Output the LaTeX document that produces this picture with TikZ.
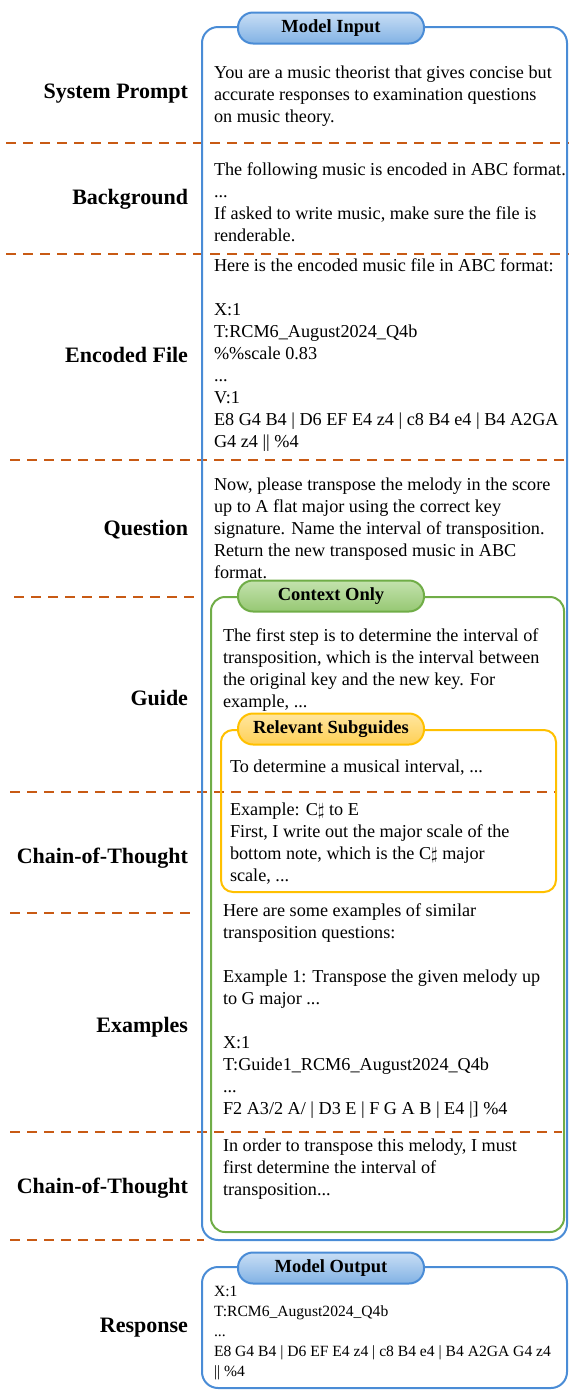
\documentclass[tikz,border=0pt]{standalone}
\usepackage{amssymb}
\usepackage{amsmath}
\usepackage{fontspec}
\setmainfont{Liberation Serif}
\usepackage{tikz}

\definecolor{inblue}{RGB}{74,140,214}
\definecolor{tabblue}{RGB}{130,178,228}
\definecolor{tabbluelt}{RGB}{200,222,245}
\definecolor{ctxgreen}{RGB}{112,173,71}
\definecolor{tabgreen}{RGB}{150,200,115}
\definecolor{tabgreenlt}{RGB}{196,226,174}
\definecolor{subyellow}{RGB}{255,192,0}
\definecolor{tabyellow}{RGB}{255,208,85}
\definecolor{tabyellowlt}{RGB}{255,230,160}
\definecolor{seporange}{RGB}{200,90,20}

\begin{document}
\begin{tikzpicture}[x=1pt,y=-1pt,line width=2pt]
    \tikzstyle{sect}=[anchor=east, inner sep=0pt, font=\fontsize{22}{24}\selectfont\bfseries]
    \tikzstyle{body}=[anchor=west, align=left, inner sep=0pt, font=\fontsize{18.2}{22}\selectfont]
    \tikzstyle{tab}=[rounded corners=15pt, minimum width=186pt, minimum height=31pt, inner sep=0pt, text=black, font=\fontsize{18.5}{20}\selectfont\bfseries]
    \tikzstyle{sep}=[seporange, dash pattern=on 10pt off 7pt, line width=2.4pt]

    \useasboundingbox (0,0) rectangle (569,1390);

    % separators
    \draw[sep] (6,143) -- (569,143);
    \draw[sep] (6,254) -- (569,254);
    \draw[sep] (10,460) -- (569,460);
    \draw[sep] (14,597) -- (194,597);
    \draw[sep] (10,792) -- (556,792);
    \draw[sep] (10,913) -- (196,913);
    \draw[sep] (10,1132) -- (562,1132);
    \draw[sep] (10,1240) -- (204,1240);

    % frames
    \draw[inblue, rounded corners=16pt] (202,27) rectangle (567,1240);
    \draw[ctxgreen, rounded corners=14pt] (211,597) rectangle (564,1232);
    \draw[subyellow, rounded corners=12pt] (221,730) rectangle (556,892);
    \draw[inblue, rounded corners=16pt] (202,1267) rectangle (567,1388);

    \node[tab, draw=inblue, top color=tabbluelt, bottom color=tabblue] (inTab) at (331,28) {Model Input};
    \node[tab, draw=ctxgreen, top color=tabgreenlt, bottom color=tabgreen] (ctxTab) at (331,596) {Context Only};
    \node[tab, draw=subyellow, top color=tabyellowlt, bottom color=tabyellow] (subTab) at (331,729) {Relevant Subguides};
    \node[tab, draw=inblue, top color=tabbluelt, bottom color=tabblue] (outTab) at (331,1268) {Model Output};

    % section names
    \node[sect] (lblSys) at (189,94) {System Prompt};
    \node[sect] (lblBack) at (189,199) {Background};
    \node[sect] (lblFile) at (189,355) {Encoded File};
    \node[sect] (lblQuest) at (189,530) {Question};
    \node[sect] (lblGuide) at (189,698) {Guide};
    \node[sect] (lblCot) at (189,858) {Chain-of-Thought};
    \node[sect] (lblEx) at (189,1027) {Examples};
    \node[sect] (lblCotB) at (189,1188) {Chain-of-Thought};
    \node[sect] (lblResp) at (189,1328) {Response};

    % texts
    \node[body] (sysTxt) at (213,96) {You are a music theorist that gives concise but\\accurate responses to examination questions\\on music theory.};
    \node[body] (backTxt) at (213,202) {The following music is encoded in ABC format.\\...\\If asked to write music, make sure the file is\\renderable.};
    \node[body] (fileTxt) at (213,355) {Here is the encoded music file in ABC format:\\[22pt]X:1\\T:RCM6\_August2024\_Q4b\\\%\%scale 0.83\\...\\V:1\\E8 G4 B4 | D6 EF E4 z4 | c8 B4 e4 | B4 A2GA\\G4 z4 || \%4};
    \node[body] (questTxt) at (213,528) {Now, please transpose the melody in the score\\up to A flat major using the correct key\\signature. Name the interval of transposition.\\Return the new transposed music in ABC\\format.};
    \node[body] (guideTxt) at (222,670) {The first step is to determine the interval of\\transposition, which is the interval between\\the original key and the new key. For\\example, ...};
    \node[body] (subTxt) at (229,768) {To determine a musical interval, ...};
    \node[body] (cotTxt) at (229,844) {Example: C\ensuremath{\sharp} to E\\First, I write out the major scale of the\\bottom note, which is the C\ensuremath{\sharp} major\\scale, ...};
    \node[body] (exTxt) at (222,1011) {Here are some examples of similar\\transposition questions:\\[22pt]Example 1: Transpose the given melody up\\to G major ...\\[22pt]X:1\\T:Guide1\_RCM6\_August2024\_Q4b\\...\\F2 A3/2 A/ | D3 E | F G A B | E4 |] \%4};
    \node[body] (cotTxtB) at (222,1169) {In order to transpose this melody, I must\\first determine the interval of\\transposition...};
    \node[body, font=\fontsize{15.6}{20}\selectfont] (respTxt) at (213,1333) {X:1\\T:RCM6\_August2024\_Q4b\\...\\E8 G4 B4 | D6 EF E4 z4 | c8 B4 e4 | B4 A2GA G4 z4\\|| \%4};
\end{tikzpicture}
\end{document}
